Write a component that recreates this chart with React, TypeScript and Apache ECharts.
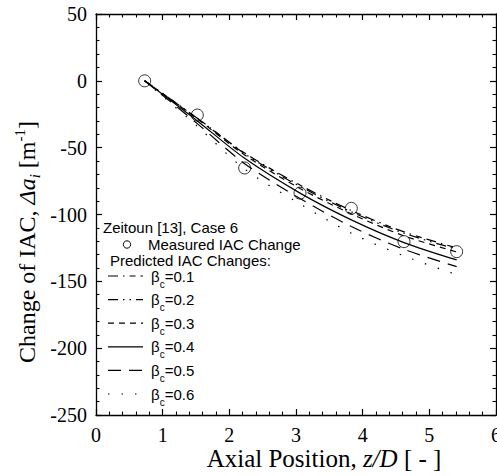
import React, { useEffect, useRef } from "react";
import * as echarts from "echarts";

// Axial positions z/D of the measurement stations
const zPos = [0.73, 1.52, 2.23, 3.06, 3.83, 4.62, 5.41];
// Measured IAC change [1/m]
const measuredIAC = [0, -25.6, -65.2, -84, -95.4, -120.3, -127.8];
// Predicted IAC changes for each beta_c
const betaLabels = ["0.1", "0.2", "0.3", "0.4", "0.5", "0.6"];
const predB01 = [0, -28, -54, -78, -97, -113, -125];
const predB02 = [0, -28, -54.5, -79, -98, -114, -126];
const predB03 = [0, -28.5, -55.5, -80.5, -99.5, -116, -128];
const predB04 = [0, -30, -58, -84, -104, -121, -134];
const predB05 = [0, -32, -62, -88, -109, -126, -139];
const predB06 = [0, -34, -66, -92, -114, -131, -145];
const predicted = [predB01, predB02, predB03, predB04, predB05, predB06];

const legendTitle = "Zeitoun [13], Case 6";
const legendMeasured = "Measured IAC Change";
const legendPredicted = "Predicted IAC Changes:";

const X_MIN = 0, X_MAX = 6, X_INT = 1;
const Y_MIN = -250, Y_MAX = 50, Y_INT = 50;

const dashes: (number[] | "solid")[] = [
  [10, 5, 1.5, 5, 6, 5],
  [10, 5, 1.5, 5, 1.5, 5],
  [6, 5],
  "solid",
  [13, 8],
  [1.5, 12],
];

const SERIF = "'Liberation Serif', 'Times New Roman', Times, serif";
const SANS = "'Liberation Sans', Arial, Helvetica, sans-serif";
const W = 497, H = 476;

export default function App() {
  const ref = useRef<HTMLDivElement>(null);
  useEffect(() => {
    if (!ref.current) return;
    const chart = echarts.init(ref.current, undefined, { renderer: "svg", width: W, height: H });

    const axisCommon = {
      type: "value" as const,
      axisLine: { show: true, onZero: false, lineStyle: { color: "#000", width: 1.3 } },
      axisTick: { show: true, inside: true, length: 6, lineStyle: { color: "#000", width: 1.2 } },
      minorTick: { show: true, splitNumber: 5, length: 3.5, lineStyle: { color: "#000", width: 1.1 } },
      splitLine: { show: false },
      minorSplitLine: { show: false },
    };

    const mkRich = (fs: number) => ({
      n: { fontFamily: SERIF, fontSize: fs, fill: "#000", lineHeight: 30, verticalAlign: "middle" },
      it: { fontFamily: SERIF, fontSize: fs, fontStyle: "italic", fill: "#000", lineHeight: 30, verticalAlign: "middle" },
      sub: { fontFamily: SERIF, fontSize: 15, fontStyle: "italic", fill: "#000", lineHeight: 15, verticalAlign: "bottom" },
      sup: { fontFamily: SERIF, fontSize: 15, fill: "#000", lineHeight: 15, verticalAlign: "top" },
    });

    const lineSeries = predicted.map((vals, i) => ({
      type: "line" as const,
      name: "beta_c=" + betaLabels[i],
      xAxisIndex: 0,
      yAxisIndex: 0,
      data: zPos.map((z, k) => [z, vals[k]]),
      smooth: 0.3,
      showSymbol: false,
      symbol: "none",
      lineStyle: { color: "#000", width: 1.2, type: dashes[i] as any, cap: "butt" as const },
      z: 2,
    }));

    const legendRowY = [276, 299.6, 323.2, 346.8, 370.4, 394];
    const graphics: any[] = [
      {
        type: "text", x: 324, y: 458,
        style: { text: "{n|Axial Position, }{it|z/D}{n| [ - ]}", rich: mkRich(25), align: "center", verticalAlign: "middle" },
      },
      {
        type: "text", x: 27, y: 242, rotation: Math.PI / 2,
        style: { text: "{n|Change of IAC, }{it|Δa}{sub|i}{n| [m}{sup|-1}{n|]}", rich: mkRich(24), align: "center", verticalAlign: "middle" },
      },
      {
        type: "text", x: 103, y: 227,
        style: { text: legendTitle, fontFamily: SANS, fontSize: 15, fill: "#000", align: "left", verticalAlign: "middle" },
      },
      {
        type: "circle", shape: { cx: 127, cy: 244.5, r: 3.7 },
        style: { fill: "none", stroke: "#000", lineWidth: 1 },
      },
      {
        type: "text", x: 148, y: 244,
        style: { text: legendMeasured, fontFamily: SANS, fontSize: 15, fill: "#000", align: "left", verticalAlign: "middle" },
      },
      {
        type: "text", x: 110, y: 260,
        style: { text: legendPredicted, fontFamily: SANS, fontSize: 15, fill: "#000", align: "left", verticalAlign: "middle" },
      },
    ];
    betaLabels.forEach((b, i) => {
      const y = legendRowY[i];
      const d = dashes[i];
      graphics.push({
        type: "line",
        shape: { x1: 108, y1: y, x2: 143, y2: y },
        style: { stroke: "#000", lineWidth: 1.2, lineDash: d === "solid" ? null : d, lineCap: "butt" },
      });
      graphics.push({
        type: "text", x: 151, y: y,
        style: {
          text: "{b|β}{s|c}{b|=" + b + "}",
          align: "left",
          verticalAlign: "middle",
          rich: {
            b: { fontFamily: SANS, fontSize: 15, fill: "#000", lineHeight: 26, verticalAlign: "middle" },
            s: { fontFamily: SANS, fontSize: 10, fill: "#000", lineHeight: 10, verticalAlign: "bottom" },
          },
        },
      });
    });

    chart.setOption({
      animation: false,
      backgroundColor: "#fff",
      grid: { left: 96, right: 1, top: 14, bottom: 61, containLabel: false, outerBoundsMode: "none" },
      xAxis: [
        {
          ...axisCommon,
          position: "bottom",
          min: X_MIN, max: X_MAX, interval: X_INT,
          axisLabel: { show: true, margin: 10, color: "#000", fontFamily: SERIF, fontSize: 20 },
        },
        {
          ...axisCommon,
          position: "top",
          min: X_MIN, max: X_MAX, interval: X_INT,
          axisLabel: { show: false },
        },
      ],
      yAxis: [
        {
          ...axisCommon,
          position: "left",
          min: Y_MIN, max: Y_MAX, interval: Y_INT,
          axisLabel: { show: true, margin: 9, color: "#000", fontFamily: SERIF, fontSize: 20 },
        },
        {
          ...axisCommon,
          position: "right",
          min: Y_MIN, max: Y_MAX, interval: Y_INT,
          axisLabel: { show: false },
        },
      ],
      series: [
        ...lineSeries,
        {
          type: "scatter",
          name: "Measured IAC Change",
          data: zPos.map((z, k) => [z, measuredIAC[k]]),
          symbol: "circle",
          symbolSize: 12,
          itemStyle: { color: "transparent", borderColor: "#000", borderWidth: 1 },
          z: 3,
        },
      ],
      graphic: graphics,
    } as any);
    return () => chart.dispose();
  }, []);
  return (
    <div
      ref={ref}
      style={{ position: "fixed", left: 0, top: 0, width: W, height: H, background: "#fff" }}
    />
  );
}
